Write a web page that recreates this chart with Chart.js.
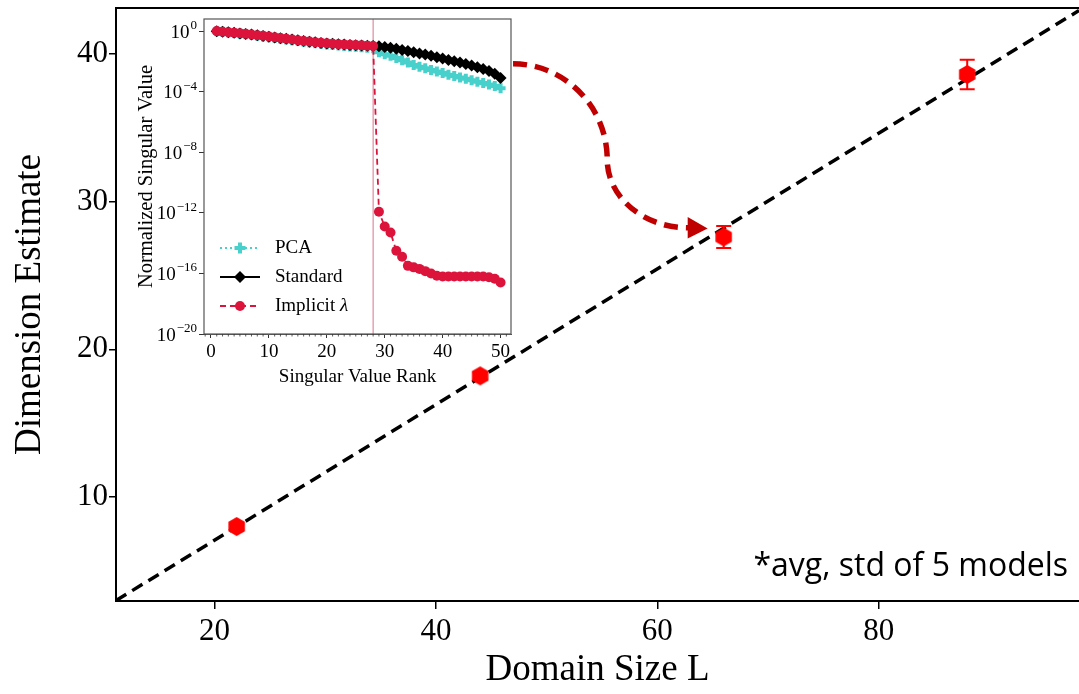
<!DOCTYPE html>
<html>
<head>
<meta charset="utf-8">
<script src="https://cdn.jsdelivr.net/npm/chart.js@4.4.1/dist/chart.umd.min.js"></script>
<style>
  html, body { margin: 0; padding: 0; background: #fff; }
  #wrap { position: relative; width: 1079px; height: 694px; overflow: hidden; }
  #mainBox { position: absolute; left: 0; top: 0; width: 1079px; height: 694px; }
  #insetBox { position: absolute; left: 134px; top: 10px; width: 386px; height: 385px; }
  #note { position: absolute; right: 11px; top: 542px; font: 32px 'Open Sans', sans-serif; color: #000; }
</style>
</head>
<body>
<div id="wrap">
  <div id="mainBox"><canvas id="main"></canvas></div>
  <div id="insetBox"><canvas id="inset"></canvas></div>
  <div id="note">*avg, std of 5 models</div>
</div>
<script>
// main plot data
const domainSize = [22, 44, 66, 88];
const dimMean = [8.0, 18.2, 27.6, 38.6];
const dimStd = [0.15, 0.25, 0.75, 1.0];
const fitX = [11.1, 98.1];
const fitY = [2.99, 42.93];
const mainXTicks = [20, 40, 60, 80];
const mainYTicks = [10, 20, 30, 40];

// inset data (log10 of normalized singular value)
const ranks = [1, 2, 3, 4, 5, 6, 7, 8, 9, 10, 11, 12, 13, 14, 15, 16, 17, 18, 19, 20, 21, 22, 23, 24, 25,
  26, 27, 28, 29, 30, 31, 32, 33, 34, 35, 36, 37, 38, 39, 40, 41, 42, 43, 44, 45, 46, 47, 48, 49, 50];
const implicitExp = [0, -0.04, -0.07, -0.1, -0.14, -0.18, -0.22, -0.27, -0.31, -0.36, -0.41, -0.46, -0.5, -0.55,
  -0.6, -0.65, -0.69, -0.73, -0.77, -0.8, -0.83, -0.86, -0.88, -0.9, -0.92, -0.94, -0.96, -0.98,
  -11.93, -12.9, -13.3, -14.5, -14.9, -15.5, -15.6, -15.7, -15.85, -16.0, -16.15, -16.2, -16.2, -16.2,
  -16.2, -16.2, -16.2, -16.2, -16.2, -16.25, -16.35, -16.6];
const standardExp = [-0.01, -0.05, -0.08, -0.11, -0.15, -0.19, -0.23, -0.28, -0.32, -0.37, -0.42, -0.47, -0.51, -0.56,
  -0.61, -0.66, -0.7, -0.74, -0.78, -0.81, -0.84, -0.87, -0.89, -0.91, -0.93, -0.95, -0.97, -0.99,
  -1.0, -1.05, -1.1, -1.17, -1.24, -1.31, -1.39, -1.47, -1.55, -1.63, -1.72, -1.81, -1.9, -1.99,
  -2.08, -2.17, -2.27, -2.38, -2.5, -2.63, -2.82, -3.1];
const pcaExp = [-0.01, -0.05, -0.09, -0.13, -0.17, -0.21, -0.26, -0.31, -0.35, -0.4, -0.45, -0.5, -0.55, -0.6,
  -0.65, -0.7, -0.75, -0.8, -0.84, -0.88, -0.92, -0.95, -0.98, -1.01, -1.04, -1.07, -1.1, -1.13,
  -1.4, -1.52, -1.63, -1.78, -1.93, -2.08, -2.23, -2.35, -2.46, -2.56, -2.67, -2.77, -2.88, -2.97,
  -3.06, -3.15, -3.24, -3.34, -3.43, -3.52, -3.62, -3.78];
const cutoffRank = 28;
const insetYTickExp = [-20, -16, -12, -8, -4, 0];
const insetXTicks = [0, 10, 20, 30, 40, 50];

// arrow path in main-plot data units (two quarter curves + head)
const arrowPath = [[46.97, 39.32], [51.67, 39.32], [55.48, 36.41], [55.48, 32.82], [55.48, 30.32], [58.73, 28.22], [62.8, 28.22]];
const arrowHead = [[64.55, 28.18], [62.75, 28.96], [62.75, 27.5]];

const serif = "'Liberation Serif', 'Times New Roman', serif";
Chart.defaults.font.family = serif;
Chart.defaults.color = '#000';

// hexagon marker like matplotlib 'h'
function hexMarker(r, color) {
  const c = document.createElement('canvas');
  const s = Math.ceil(r * 2 + 2);
  c.width = s; c.height = s;
  const g = c.getContext('2d');
  g.fillStyle = color;
  g.beginPath();
  for (let k = 0; k < 6; k++) {
    const ang = -Math.PI / 2 + k * Math.PI / 3;
    const px = s / 2 + r * Math.cos(ang), py = s / 2 + r * Math.sin(ang);
    if (k === 0) g.moveTo(px, py); else g.lineTo(px, py);
  }
  g.closePath();
  g.fill();
  return c;
}

const errorBars = {
  id: 'errorBars',
  afterDatasetsDraw(chart) {
    const { ctx, scales: { x, y } } = chart;
    ctx.save();
    ctx.strokeStyle = '#ff0000';
    ctx.lineWidth = 2;
    domainSize.forEach((d, i) => {
      const px = x.getPixelForValue(d);
      const top = y.getPixelForValue(dimMean[i] + dimStd[i]);
      const bot = y.getPixelForValue(dimMean[i] - dimStd[i]);
      ctx.beginPath();
      ctx.moveTo(px, top); ctx.lineTo(px, bot);
      ctx.moveTo(px - 7.5, top); ctx.lineTo(px + 7.5, top);
      ctx.moveTo(px - 7.5, bot); ctx.lineTo(px + 7.5, bot);
      ctx.stroke();
    });
    ctx.restore();
  }
};

const mainDecor = {
  id: 'mainDecor',
  afterDraw(chart) {
    const { ctx, chartArea: a, scales: { x, y } } = chart;
    ctx.save();
    // top spine
    ctx.strokeStyle = '#000';
    ctx.lineWidth = 2;
    ctx.beginPath();
    ctx.moveTo(a.left, a.top); ctx.lineTo(a.right, a.top);
    ctx.stroke();
    // curved arrow
    const p = arrowPath.map(q => [x.getPixelForValue(q[0]), y.getPixelForValue(q[1])]);
    ctx.strokeStyle = '#c00000';
    ctx.fillStyle = '#c00000';
    ctx.lineWidth = 5.5;
    ctx.setLineDash([14, 8]);
    ctx.beginPath();
    ctx.moveTo(p[0][0], p[0][1]);
    ctx.bezierCurveTo(p[1][0], p[1][1], p[2][0], p[2][1], p[3][0], p[3][1]);
    ctx.bezierCurveTo(p[4][0], p[4][1], p[5][0], p[5][1], p[6][0], p[6][1]);
    ctx.stroke();
    ctx.setLineDash([]);
    const h = arrowHead.map(q => [x.getPixelForValue(q[0]), y.getPixelForValue(q[1])]);
    ctx.beginPath();
    ctx.moveTo(h[0][0], h[0][1]); ctx.lineTo(h[1][0], h[1][1]); ctx.lineTo(h[2][0], h[2][1]);
    ctx.closePath();
    ctx.fill();
    ctx.restore();
  }
};

new Chart(document.getElementById('main'), {
  type: 'scatter',
  data: {
    datasets: [
      {
        data: domainSize.map((d, i) => ({ x: d, y: dimMean[i] })),
        pointStyle: hexMarker(9.5, '#ff0000'),
        showLine: false
      },
      {
        data: fitX.map((d, i) => ({ x: d, y: fitY[i] })),
        showLine: true,
        borderColor: '#000',
        borderWidth: 3.5,
        borderDash: [12, 7],
        pointRadius: 0
      }
    ]
  },
  options: {
    responsive: true,
    maintainAspectRatio: false,
    animation: false,
    layout: { autoPadding: false, padding: { top: 8, right: 0, left: 0, bottom: 0 } },
    plugins: { legend: { display: false }, tooltip: { enabled: false } },
    scales: {
      x: {
        type: 'linear', min: 11.1, max: 98.1,
        afterBuildTicks: s => { s.ticks = mainXTicks.map(v => ({ value: v })); },
        afterFit: s => { s.height = 93; s.paddingLeft = 0; s.paddingRight = 0; },
        grid: { drawOnChartArea: false, tickLength: 8, color: '#000', lineWidth: 1.5 },
        border: { display: true, color: '#000', width: 2 },
        ticks: { font: { size: 31 }, padding: 4, maxRotation: 0 },
        title: { display: true, text: 'Domain Size L', font: { size: 37 }, padding: { top: 0, bottom: 2 } }
      },
      y: {
        type: 'linear', min: 2.96, max: 43.1,
        afterBuildTicks: s => { s.ticks = mainYTicks.map(v => ({ value: v })); },
        afterFit: s => { s.width = 116; s.paddingTop = 0; s.paddingBottom = 0; },
        grid: { drawOnChartArea: false, tickLength: 7, color: '#000', lineWidth: 1.5 },
        border: { display: true, color: '#000', width: 2 },
        ticks: { font: { size: 31 }, padding: 1 },
        title: { display: true, text: 'Dimension Estimate', font: { size: 37 }, padding: { top: 8, bottom: 0 } }
      }
    }
  },
  plugins: [errorBars, mainDecor]
});

// ---- inset ----
function marker(ctx, style, x, y, color) {
  ctx.save();
  ctx.fillStyle = color;
  ctx.strokeStyle = color;
  if (style === 'circle') {
    ctx.beginPath(); ctx.arc(x, y, 5, 0, Math.PI * 2); ctx.fill();
  } else if (style === 'rectRot') {
    ctx.beginPath();
    ctx.moveTo(x, y - 6); ctx.lineTo(x + 6, y); ctx.lineTo(x, y + 6); ctx.lineTo(x - 6, y);
    ctx.closePath(); ctx.fill();
  } else {
    ctx.lineWidth = 4;
    ctx.beginPath();
    ctx.moveTo(x - 5.5, y); ctx.lineTo(x + 5.5, y);
    ctx.moveTo(x, y - 5.5); ctx.lineTo(x, y + 5.5);
    ctx.stroke();
  }
  ctx.restore();
}

const legendRows = [
  { label: 'PCA', color: '#48d1cc', dash: [2, 3], style: 'cross' },
  { label: 'Standard', color: '#000', dash: [], style: 'rectRot' },
  { label: 'Implicit ', italic: '\u03bb', color: '#dc143c', dash: [6, 4], style: 'circle' }
];

const insetDecor = {
  id: 'insetDecor',
  beforeDatasetsDraw(chart) {
    const { ctx, chartArea: a, scales: { x } } = chart;
    ctx.save();
    ctx.fillStyle = '#fff';
    ctx.fillRect(a.left, a.top, a.right - a.left, a.bottom - a.top);
    const cx = x.getPixelForValue(cutoffRank);
    ctx.strokeStyle = '#e08aa0';
    ctx.lineWidth = 1.2;
    ctx.beginPath(); ctx.moveTo(cx, a.top); ctx.lineTo(cx, a.bottom); ctx.stroke();
    ctx.restore();
  },
  afterDraw(chart) {
    const { ctx, chartArea: a, scales: { x, y } } = chart;
    ctx.save();
    ctx.strokeStyle = '#555';
    ctx.lineWidth = 1.2;
    ctx.strokeRect(a.left, a.top, a.right - a.left, a.bottom - a.top);
    // minor ticks
    ctx.strokeStyle = '#333';
    ctx.lineWidth = 0.8;
    ctx.beginPath();
    for (let r = -1; r <= 51; r++) {
      if (r % 10 === 0) continue;
      const px = x.getPixelForValue(r);
      ctx.moveTo(px, a.bottom); ctx.lineTo(px, a.bottom + 2.5);
    }
    ctx.stroke();
    // y tick labels as 10^e
    ctx.fillStyle = '#000';
    ctx.textAlign = 'right';
    ctx.textBaseline = 'alphabetic';
    insetYTickExp.forEach(e => {
      const py = y.getPixelForValue(Math.pow(10, e));
      const ex = e === 0 ? '0' : '\u2212' + Math.abs(e);
      ctx.font = '13px ' + serif;
      const ew = ctx.measureText(ex).width;
      const right = a.left - 7;
      ctx.fillText(ex, right, py - 2);
      ctx.font = '19px ' + serif;
      ctx.fillText('10', right - ew - 1, py + 6.5);
    });
    // legend
    ctx.textAlign = 'left';
    ctx.textBaseline = 'middle';
    legendRows.forEach((row, i) => {
      const ly = a.bottom - 86 + i * 29;
      const lx = a.left + 16;
      ctx.strokeStyle = row.color;
      ctx.lineWidth = 2;
      ctx.setLineDash(row.dash);
      ctx.beginPath(); ctx.moveTo(lx, ly); ctx.lineTo(lx + 40, ly); ctx.stroke();
      ctx.setLineDash([]);
      marker(ctx, row.style, lx + 20, ly, row.color);
      ctx.fillStyle = '#000';
      ctx.font = '19px ' + serif;
      ctx.fillText(row.label, lx + 55, ly);
      if (row.italic) {
        const w = ctx.measureText(row.label).width;
        ctx.font = 'italic 19px ' + serif;
        ctx.fillText(row.italic, lx + 55 + w, ly);
      }
    });
    ctx.restore();
  }
};

function series(exps) {
  return ranks.map((r, i) => ({ x: r, y: Math.pow(10, exps[i]) }));
}

new Chart(document.getElementById('inset'), {
  type: 'scatter',
  data: {
    datasets: [
      {
        label: 'Implicit',
        data: series(implicitExp),
        showLine: true,
        borderColor: '#dc143c',
        backgroundColor: '#dc143c',
        borderWidth: 1.8,
        borderDash: [6, 4],
        pointStyle: 'circle',
        pointRadius: 5,
        pointBorderWidth: 0
      },
      {
        label: 'Standard',
        data: series(standardExp),
        showLine: true,
        borderColor: '#000',
        backgroundColor: '#000',
        borderWidth: 1.8,
        pointStyle: 'rectRot',
        pointRadius: 6,
        pointBorderWidth: 0
      },
      {
        label: 'PCA',
        data: series(pcaExp),
        showLine: true,
        borderColor: '#48d1cc',
        backgroundColor: '#48d1cc',
        borderWidth: 2,
        borderDash: [2, 3],
        pointStyle: 'cross',
        pointRadius: 5,
        pointBorderWidth: 4
      }
    ]
  },
  options: {
    responsive: true,
    maintainAspectRatio: false,
    animation: false,
    layout: { autoPadding: false, padding: { top: 9, right: 9, left: 0, bottom: 0 } },
    plugins: { legend: { display: false }, tooltip: { enabled: false } },
    scales: {
      x: {
        type: 'linear', min: -1.2, max: 51.8,
        afterBuildTicks: s => { s.ticks = insetXTicks.map(v => ({ value: v })); },
        afterFit: s => { s.height = 61; s.paddingLeft = 0; s.paddingRight = 0; },
        grid: { drawOnChartArea: false, tickLength: 4, color: '#333' },
        border: { display: true, color: '#555' },
        ticks: { font: { size: 19 }, padding: 3, maxRotation: 0 },
        title: { display: true, text: 'Singular Value Rank', font: { size: 19 }, padding: { top: 0, bottom: 7 } }
      },
      y: {
        type: 'logarithmic', min: 1e-20, max: Math.pow(10, 0.8),
        afterBuildTicks: s => { s.ticks = insetYTickExp.map(e => ({ value: Math.pow(10, e) })); },
        afterFit: s => { s.width = 70; s.paddingTop = 0; s.paddingBottom = 0; },
        grid: { drawOnChartArea: false, tickLength: 5, color: '#333' },
        border: { display: true, color: '#555' },
        ticks: { display: false },
        title: { display: true, text: 'Normalized Singular Value', font: { size: 20.5 }, padding: { top: 0, bottom: 0 } }
      }
    }
  },
  plugins: [insetDecor]
});
</script>
</body>
</html>
